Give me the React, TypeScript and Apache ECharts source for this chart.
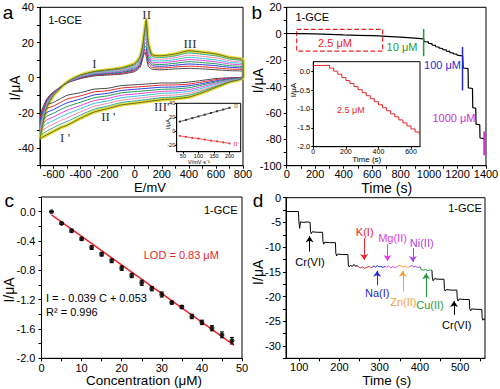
import React, { useEffect, useRef } from "react";
import * as echarts from "echarts";

const SANS = '"Liberation Sans", Arial, sans-serif';
const SERIF = '"Liberation Serif", "Times New Roman", serif';

// ---------- panel a : cyclic voltammograms ----------
const cvUpperE = [-700, -650, -600, -500, -400, -300, -200, -100, 0, 40, 60, 75, 85, 100, 130, 200, 300, 400, 500, 600, 700, 800];
const cvLowerE = [800, 700, 600, 500, 400, 300, 200, 100, 0, -100, -200, -300, -400, -500, -550, -600, -650, -700];

const cv1Up = [-21, -12, -8, -3, -0.5, 1, 1.5, 2, 3.5, 6, 11, 14.5, 12, 6.5, 4.8, 4.5, 5, 5.3, 5, 4.5, 4, 3.5];
const cv2Up = [-22.7, -12.6, -8.3, -2.9, -0.3, 1.3, 1.9, 2.4, 4.1, 6.8, 12, 16.2, 14.6, 8.2, 5.8, 5.5, 6.1, 6.6, 6.2, 5.6, 4.9, 4.3];
const cv3Up = [-24.4, -13.3, -8.5, -2.9, 0, 1.6, 2.3, 2.9, 4.6, 7.5, 13, 17.9, 17.3, 9.9, 6.9, 6.5, 7.1, 7.8, 7.4, 6.8, 5.9, 5.1];
const cv4Up = [-26.1, -13.9, -8.8, -2.8, 0.3, 1.9, 2.6, 3.3, 5.2, 8.3, 14, 19.6, 19.9, 11.6, 7.9, 7.5, 8.2, 9.1, 8.6, 7.9, 6.8, 5.9];
const cv5Up = [-27.8, -14.5, -9, -2.8, 0.5, 2.3, 3, 3.8, 5.8, 9, 15, 21.3, 22.5, 13.3, 8.9, 8.5, 9.3, 10.3, 9.8, 9, 7.8, 6.8];
const cv6Up = [-29.4, -15.1, -9.3, -2.7, 0.8, 2.6, 3.4, 4.2, 6.3, 9.8, 16, 22.9, 25.1, 15, 10, 9.5, 10.3, 11.6, 10.9, 10.1, 8.7, 7.6];
const cv7Up = [-31.1, -15.8, -9.5, -2.6, 1, 2.9, 3.8, 4.6, 6.9, 10.5, 17, 24.6, 27.8, 16.6, 11, 10.5, 11.4, 12.8, 12.1, 11.3, 9.6, 8.4];
const cv8Up = [-32.8, -16.4, -9.8, -2.6, 1.3, 3.2, 4.1, 5.1, 7.4, 11.3, 18, 26.3, 30.4, 18.3, 12, 11.5, 12.4, 14.1, 13.3, 12.4, 10.6, 9.2];
const cv9Up = [-34.5, -17, -10, -2.5, 1.5, 3.5, 4.5, 5.5, 8, 12, 19, 28, 33, 20, 13, 12.5, 13.5, 15.3, 14.5, 13.5, 11.5, 10];

const cv1Down = [0.5, 0, -0.5, -1.5, -2.5, -3, -3, -3.5, -4, -4.5, -6, -6.5, -8.5, -10, -12, -14, -15.5, -21];
const cv2Down = [0.4, -0.3, -1.1, -2.4, -3.6, -4.1, -4.2, -4.8, -5.3, -5.9, -7.4, -8.1, -10.3, -12.1, -14.1, -16.1, -17.6, -22.7];
const cv3Down = [0.4, -0.6, -1.8, -3.3, -4.6, -5.3, -5.4, -6, -6.6, -7.3, -8.9, -9.8, -12.1, -14.3, -16.1, -18.1, -19.8, -24.4];
const cv4Down = [0.3, -0.9, -2.4, -4.1, -5.7, -6.4, -6.6, -7.3, -7.9, -8.6, -10.3, -11.4, -13.9, -16.4, -18.2, -20.2, -21.9, -26.1];
const cv5Down = [0.3, -1.3, -3, -5, -6.8, -7.5, -7.8, -8.5, -9.3, -10, -11.8, -13, -15.8, -18.5, -20.3, -22.3, -24, -27.8];
const cv6Down = [0.2, -1.6, -3.6, -5.9, -7.8, -8.6, -8.9, -9.8, -10.6, -11.4, -13.2, -14.6, -17.6, -20.6, -22.3, -24.3, -26.1, -29.4];
const cv7Down = [0.1, -1.9, -4.3, -6.8, -8.9, -9.8, -10.1, -11, -11.9, -12.8, -14.6, -16.3, -19.4, -22.8, -24.4, -26.4, -28.3, -31.1];
const cv8Down = [0.1, -2.2, -4.9, -7.6, -9.9, -10.9, -11.3, -12.3, -13.2, -14.1, -16.1, -17.9, -21.2, -24.9, -26.4, -28.4, -30.4, -32.8];
const cv9Down = [0, -2.5, -5.5, -8.5, -11, -12, -12.5, -13.5, -14.5, -15.5, -17.5, -19.5, -23, -27, -28.5, -30.5, -32.5, -34.5];

const cvUps = [cv1Up, cv2Up, cv3Up, cv4Up, cv5Up, cv6Up, cv7Up, cv8Up, cv9Up];
const cvDowns = [cv1Down, cv2Down, cv3Down, cv4Down, cv5Down, cv6Down, cv7Down, cv8Down, cv9Down];
const cvColors = ["#4a4a4a", "#e8262a", "#2a3de0", "#1f9a55", "#dd44dd", "#35c4dc", "#f28aa8", "#2fa896", "#6f6a1c"];
const cvHalo = "#e4de3c";

const aXLabels = [-600, -400, -200, 0, 200, 400, 600, 800];
const aXTicks = [-700, -600, -500, -400, -300, -200, -100, 0, 100, 200, 300, 400, 500, 600, 700, 800];
const aYLabels = [-40, -20, 0, 20, 40];
const aYTicks = [-50, -40, -30, -20, -10, 0, 10, 20, 30, 40];

// inset of panel a
const insetScanRate = [40, 60, 80, 100, 120, 140, 160, 180, 200];
const insetPeakII = [13.5, 16, 18.5, 21, 23.5, 26, 28.5, 31, 33.5];
const insetPeakII2 = [-7, -8.5, -10, -11, -12.5, -14, -15, -16.5, -18];
const insetAXLabels = [50, 100, 150, 200];
const insetAYLabels = [-20, 0, 20, 40];

// ---------- panel b : amperometric i-t ----------
const bTime = [0, 100, 200, 300, 400, 500, 600, 650, 700, 800, 900, 962,
  964, 995, 997, 1020, 1022, 1045, 1047, 1070, 1072, 1095, 1097, 1120, 1122, 1145, 1147, 1170, 1172, 1195, 1197, 1236,
  1240, 1274, 1276, 1305, 1307, 1328, 1330, 1356, 1358, 1385, 1389];
const bCurrent = [0.15, 0.1, -0.2, -0.55, -0.9, -1.2, -1.5, -1.7, -2.0, -2.6, -3.3, -3.9,
  -6.0, -6.2, -7.3, -7.5, -8.6, -8.8, -9.9, -10.1, -11.0, -11.2, -12.1, -12.3, -13.2, -13.4, -14.3, -14.5, -15.3, -15.5, -16.3, -16.8,
  -26, -26.5, -41, -41.5, -56, -56.5, -68.5, -69, -79, -79.5, -81];
const bMark10uM = [[962, 3.5], [962, -17]];
const bMark100uM = [[1235, -10], [1235, -43]];
const bMark1000uM = [[1388, -74], [1388, -92]];
const bBox = [[70, 3.3], [674, -13.2]];
const bXLabels = [0, 200, 400, 600, 800, 1000, 1200, 1400];
const bXTicks = [0, 100, 200, 300, 400, 500, 600, 700, 800, 900, 1000, 1100, 1200, 1300, 1400];
const bYLabels = [-100, -80, -60, -40, -20, 0, 20];
const bYTicks = [-100, -90, -80, -70, -60, -50, -40, -30, -20, -10, 0, 10, 20];

// inset of panel b
const insetBTime = [0, 100, 125, 150, 175, 200, 225, 250, 275, 300, 325, 350, 375, 400, 425, 450, 475, 500, 525, 550, 575, 600, 625, 650];
const insetBCurrent = [0.15, 0.08, 0.0, -0.08, -0.17, -0.25, -0.33, -0.41, -0.49, -0.57, -0.65, -0.73, -0.81, -0.89, -0.97, -1.05, -1.13, -1.21, -1.29, -1.37, -1.45, -1.53, -1.61, -1.68];
const insetBXLabels = [0, 200, 400, 600];
const insetBYLabels = [-2.0, -1.5, -1.0, -0.5, 0.0];

// ---------- panel c : calibration ----------
const cConc = [2.5, 5, 7.5, 10, 12.5, 15, 17.5, 20, 22.5, 25, 27.5, 30, 32.5, 35, 37.5, 40, 42.5, 45, 47.5];
const cCurrent = [0, -0.16, -0.26, -0.37, -0.49, -0.58, -0.67, -0.77, -0.87, -0.97, -1.05, -1.13, -1.24, -1.30, -1.43, -1.51, -1.59, -1.68, -1.76];
const cError = [0, 0.015, 0.02, 0.02, 0.025, 0.025, 0.025, 0.03, 0.03, 0.035, 0.03, 0.035, 0.02, 0.02, 0.03, 0.03, 0.035, 0.04, 0.045];
const cFit = [[2.5, -0.045], [48, -1.82]];
const cXLabels = [0, 10, 20, 30, 40, 50];
const cXTicks = [0, 5, 10, 15, 20, 25, 30, 35, 40, 45, 50];
const cYLabels = [-2.0, -1.6, -1.2, -0.8, -0.4, 0.0];
const cYTicks = [-2.0, -1.8, -1.6, -1.4, -1.2, -1.0, -0.8, -0.6, -0.4, -0.2, 0.0, 0.2];

// ---------- panel d : interference ----------
const dPre = [[67, -2.8], [98, -2.8], [99, -4.7], [101, -6.2], [103, -4.9], [110, -5.0], [120, -4.9], [127, -5.0], [128, -6.8], [130, -7.3], [132, -6.9], [145, -7.0], [158, -7.0], [159, -8.9], [161, -9.4], [163, -9.0], [175, -9.1], [190, -9.1], [191, -11.3], [193, -11.8], [195, -11.4], [208, -11.5], [221, -11.5], [222, -13.6], [224, -14.0], [227, -13.7], [232, -13.9], [236, -13.5], [240, -13.9], [244, -13.7], [247, -14.0]];
const dK = [[247, -14.0], [252, -14.2], [258, -14.0], [262, -14.3], [268, -14.1], [274, -13.9], [278, -14.2], [282, -14.0]];
const dNa = [[282, -14.0], [286, -13.8], [290, -14.1], [294, -13.7], [298, -14.0], [303, -13.9], [308, -14.1], [314, -13.9]];
const dMg = [[314, -13.9], [318, -14.1], [322, -13.8], [327, -14.2], [332, -14.0], [337, -14.1], [343, -14.0]];
const dZn = [[343, -14.0], [348, -13.7], [353, -13.8], [358, -14.0], [363, -13.8], [369, -14.1], [376, -13.9]];
const dNi = [[376, -13.9], [380, -13.7], [384, -14.0], [389, -13.9], [395, -14.1], [401, -14.0]];
const dCu = [[401, -14.0], [403, -14.5], [408, -14.7], [414, -14.5], [420, -14.8], [426, -14.6], [430, -14.7]];
const dPost = [[430, -14.7], [431, -16.2], [433, -16.8], [436, -16.4], [447, -16.5], [460, -16.5], [461, -18.4], [463, -18.9], [466, -18.6], [478, -18.7], [492, -18.7], [493, -20.4], [495, -20.9], [498, -20.5], [510, -20.6], [523, -20.6], [524, -22.4], [526, -22.9], [529, -22.5], [541, -22.6], [554, -22.6], [555, -24.3], [557, -24.8], [559, -24.5], [562, -24.6]];
const dArrowCr1 = [[125.6, -10.9], [125.6, -7.8]];
const dArrowCr2 = [[485, -23.7], [485, -20.9]];
const dArrowK = [[261.5, -8.2], [261.5, -12.6]];
const dArrowNa = [[293.8, -17.7], [293.8, -14.8]];
const dArrowMg = [[319.4, -9.4], [319.4, -12.8]];
const dArrowZn = [[357.6, -19], [357.6, -14.8]];
const dArrowNi = [[382.5, -10.2], [382.5, -13.0]];
const dArrowCu = [[415.5, -20.1], [415.5, -15.3]];
const dXLabels = [100, 200, 300, 400, 500];
const dXTicks = [100, 150, 200, 250, 300, 350, 400, 450, 500, 550];
const dYLabels = [-30, -25, -20, -15, -10, -5, 0];
const dYTicks = [-32.5, -30, -27.5, -25, -22.5, -20, -17.5, -15, -12.5, -10, -7.5, -5, -2.5, 0];

const RED = "#e8262a";
const GREEN = "#23993a";
const BLUE = "#2a2ad2";
const MAGENTA = "#d02ed0";
const ORANGE = "#f2a23a";
const VIOLET = "#a744e6";

const zip = (xs: number[], ys: number[]) => xs.map((x, i) => [x, ys[i]]);

function xAxis(grid: number, min: number, max: number, labels: number[], ticks: number[], o: any = {}) {
  return {
    type: "value", gridIndex: grid, min, max,
    axisLine: { show: true, onZero: false, lineStyle: { color: "#000", width: 1 } },
    axisTick: { show: true, length: o.tick ?? 3, customValues: ticks, lineStyle: { color: "#000", width: 1 } },
    axisLabel: {
      show: true, customValues: labels, color: "#000", fontSize: o.size ?? 11, fontFamily: SANS,
      margin: o.margin ?? 3, formatter: o.fmt ?? ((v: number) => String(v)),
    },
    splitLine: { show: false },
  };
}
const yAxis = xAxis;

function T(x: number, y: number, text: string, size: number, color = "#000", o: any = {}) {
  return {
    type: "text", x, y, silent: true, z: 100,
    rotation: o.rot ? Math.PI / 2 : 0,
    style: {
      text, fill: color,
      font: `${size}px ${o.serif ? SERIF : SANS}`,
      align: o.align || "center", verticalAlign: "middle",
      textAlign: o.align || "center", textVerticalAlign: "middle",
    },
  };
}

function arrowLine(pts: number[][], color: string) {
  return {
    silent: true, symbol: ["none", "arrow"], symbolSize: 6,
    label: { show: false }, emphasis: { disabled: true },
    lineStyle: { color, width: 1, type: "solid" },
    data: [[{ coord: pts[0] }, { coord: pts[1] }]],
  };
}

function lineSeries(axis: number, data: any[], color: string, width = 1, extra: any = {}) {
  return {
    type: "line", xAxisIndex: axis, yAxisIndex: axis, data, symbol: "none", silent: true,
    lineStyle: { color, width }, itemStyle: { color }, ...extra,
  };
}

function buildOption() {
  const series: any[] = [];
  // panel a curves
  cvUps.forEach((up, i) => {
    const data = [...zip(cvUpperE, up), ...zip(cvLowerE, cvDowns[i])];
    if (i === cvUps.length - 1) {
      series.push(lineSeries(0, data, cvHalo, 3.5, { smooth: 0.2, z: 3 }));
    }
    series.push(lineSeries(0, data, cvColors[i], 1, { smooth: 0.2, z: 4 }));
  });
  // inset a
  series.push(lineSeries(4, zip(insetScanRate, insetPeakII), "#333", 0.8, { symbol: "rect", symbolSize: 2 }));
  series.push(lineSeries(4, zip(insetScanRate, insetPeakII2), "#f03030", 0.8, { symbol: "circle", symbolSize: 2 }));

  // panel b
  series.push(lineSeries(1, zip(bTime, bCurrent), "#000", 1.2, {
    markArea: {
      silent: true,
      itemStyle: { color: "rgba(0,0,0,0)", borderColor: RED, borderWidth: 1.2, borderType: "dashed" },
      data: [[{ coord: bBox[0] }, { coord: bBox[1] }]],
    },
  }));
  series.push(lineSeries(1, bMark10uM, GREEN, 1.5));
  series.push(lineSeries(1, bMark100uM, BLUE, 1.5));
  series.push(lineSeries(1, bMark1000uM, MAGENTA, 2));
  // inset b
  series.push(lineSeries(5, zip(insetBTime, insetBCurrent), RED, 1, { step: "end" }));

  // panel c
  series.push(lineSeries(2, cFit, RED, 1.5, { z: 2 }));
  series.push({
    type: "custom", xAxisIndex: 2, yAxisIndex: 2, silent: true, z: 3,
    data: cConc.map((c, i) => [c, cCurrent[i] - cError[i], cCurrent[i] + cError[i]]),
    encode: { x: 0, y: [1, 2] },
    renderItem: (_p: any, api: any) => {
      const x = api.value(0);
      const a = api.coord([x, api.value(1)]);
      const b = api.coord([x, api.value(2)]);
      const st = { stroke: "#000", lineWidth: 1 };
      return {
        type: "group",
        children: [
          { type: "line", shape: { x1: a[0], y1: a[1], x2: b[0], y2: b[1] }, style: st },
          { type: "line", shape: { x1: a[0] - 2, y1: a[1], x2: a[0] + 2, y2: a[1] }, style: st },
          { type: "line", shape: { x1: b[0] - 2, y1: b[1], x2: b[0] + 2, y2: b[1] }, style: st },
        ],
      };
    },
  });
  series.push({
    type: "scatter", xAxisIndex: 2, yAxisIndex: 2, silent: true, z: 4,
    data: zip(cConc, cCurrent), symbolSize: 5, itemStyle: { color: "#000" },
  });

  // panel d
  series.push(lineSeries(3, dPre, "#000", 1, { markLine: arrowLine(dArrowCr1, "#000") }));
  series.push(lineSeries(3, dK, RED, 1, { markLine: arrowLine(dArrowK, RED) }));
  series.push(lineSeries(3, dNa, BLUE, 1, { markLine: arrowLine(dArrowNa, BLUE) }));
  series.push(lineSeries(3, dMg, "#e040e0", 1, { markLine: arrowLine(dArrowMg, "#e040e0") }));
  series.push(lineSeries(3, dZn, ORANGE, 1, { markLine: arrowLine(dArrowZn, ORANGE) }));
  series.push(lineSeries(3, dNi, VIOLET, 1, { markLine: arrowLine(dArrowNi, VIOLET) }));
  series.push(lineSeries(3, dCu, GREEN, 1, { markLine: arrowLine(dArrowCu, GREEN) }));
  series.push(lineSeries(3, dPost, "#000", 1, { markLine: arrowLine(dArrowCr2, "#000") }));

  const grids = [
    { left: 40, top: 7.3, width: 203, height: 158.4 },
    { left: 286.7, top: 7.3, width: 199.3, height: 158.4 },
    { left: 41.5, top: 197, width: 200.5, height: 161.3 },
    { left: 286, top: 197.7, width: 199, height: 160.6 },
    { left: 176.7, top: 103.3, width: 64, height: 48.4, backgroundColor: "#fff" },
    { left: 313.3, top: 61.7, width: 106.7, height: 85, backgroundColor: "#fff" },
  ].map((g) => ({
    show: true, borderColor: "#000", borderWidth: 1, backgroundColor: "rgba(0,0,0,0)",
    containLabel: false, outerBoundsMode: "none", ...g,
  }));

  const fmt1 = (v: number) => (Math.abs(v) < 1e-9 ? "0.0" : v.toFixed(1));

  const xAxes = [
    xAxis(0, -700, 800, aXLabels, aXTicks, { margin: 2.5 }),
    xAxis(1, 0, 1400, bXLabels, bXTicks, { margin: 3 }),
    xAxis(2, 0, 50, cXLabels, cXTicks, { margin: 4 }),
    xAxis(3, 67, 562, dXLabels, dXTicks, { margin: 3.5 }),
    xAxis(4, 30, 236, insetAXLabels, insetAXLabels, { size: 5.5, margin: 1.5, tick: 2 }),
    xAxis(5, 0, 655, insetBXLabels, insetBXLabels, { size: 7, margin: 1.5, tick: 2 }),
  ];
  const yAxes = [
    yAxis(0, -50, 40, aYLabels, aYTicks, { margin: 6 }),
    yAxis(1, -100, 20, bYLabels, bYTicks, { margin: 5 }),
    yAxis(2, -2.0, 0.2, cYLabels, cYTicks, { margin: 6, fmt: fmt1 }),
    yAxis(3, -32.5, 0, dYLabels, dYTicks, { margin: 5 }),
    yAxis(4, -30, 40, insetAYLabels, insetAYLabels, { size: 5.5, margin: 1.5, tick: 2 }),
    yAxis(5, -2.0, 0.25, insetBYLabels, insetBYLabels, { size: 7.5, margin: 3, tick: 2, fmt: fmt1 }),
  ];

  const graphic = [
    // panel letters
    T(8, 12, "a", 19), T(256.7, 12, "b", 19), T(9.3, 200.5, "c", 19), T(258, 200.5, "d", 19),
    // panel a
    T(65, 20, "1-GCE", 11),
    T(94.3, 63.3, "I", 13, "#333", { serif: true }),
    T(146.7, 14, "II", 13, "#333", { serif: true }),
    T(190, 43.3, "III", 13, "#333", { serif: true }),
    T(65, 137.3, "I '", 13, "#333", { serif: true }),
    T(108.3, 116.7, "II '", 13, "#333", { serif: true }),
    T(161.7, 106, "III'", 13, "#333", { serif: true }),
    T(150, 187.8, "E/mV", 13),
    T(15, 88, "I/μA", 14, "#000", { rot: true }),
    T(236, 105.5, "II", 6, "#666", { serif: true }),
    T(236, 143.5, "II'", 6, "#f03030", { serif: true }),
    T(199, 161.5, "V/mV·s⁻¹", 5.5),
    T(167.5, 124, "I/μA", 5.5, "#000", { rot: true }),
    // panel b
    T(312.3, 16.7, "1-GCE", 11),
    T(335, 43.3, "2.5 μM", 11, RED),
    T(402, 46.7, "10 μM", 11, GREEN),
    T(442.5, 65, "100 μM", 11, BLUE),
    T(454, 118.3, "1000 μM", 11, MAGENTA),
    T(386.7, 188.3, "Time (s)", 14),
    T(258.3, 80.7, "I/μA", 14, "#000", { rot: true }),
    T(350.8, 110, "2.5 μM", 9, RED),
    T(366.7, 159.5, "Time (s)", 8),
    T(293.5, 90, "I/μA", 8, "#000", { rot: true }),
    // panel c
    T(220.7, 210.3, "1-GCE", 11),
    T(181.3, 255, "LOD = 0.83 μM", 11, RED),
    T(46, 297.7, "I = - 0.039 C + 0.053", 11, "#000", { align: "left" }),
    T(46, 312.3, "R² = 0.996", 11, "#000", { align: "left" }),
    T(144, 380.5, "Concentration (μM)", 13.5),
    T(9, 290, "I/μA", 14, "#000", { rot: true }),
    // panel d
    T(465, 207.5, "1-GCE", 11),
    T(364.7, 231.7, "K(I)", 11, RED),
    T(392.5, 238.3, "Mg(II)", 11, "#e040e0"),
    T(421.7, 242.5, "Ni(II)", 11, VIOLET),
    T(377.2, 293.3, "Na(I)", 11, BLUE),
    T(403.3, 301.7, "Zn(II)", 11, ORANGE),
    T(430, 305, "Cu(II)", 11, GREEN),
    T(310, 261.7, "Cr(VI)", 11),
    T(456.7, 325, "Cr(VI)", 11),
    T(386.7, 380.5, "Time (s)", 13.5),
    T(258.3, 272.3, "I/μA", 14, "#000", { rot: true }),
  ];

  return {
    animation: false,
    backgroundColor: "#fff",
    textStyle: { fontFamily: SANS },
    grid: grids,
    xAxis: xAxes,
    yAxis: yAxes,
    series,
    graphic,
  };
}

export default function App() {
  const ref = useRef<HTMLDivElement>(null);
  useEffect(() => {
    if (!ref.current) return;
    const chart = echarts.init(ref.current, undefined, { renderer: "svg" });
    chart.setOption(buildOption() as any);
    return () => chart.dispose();
  }, []);
  return (
    <div
      ref={ref}
      style={{ position: "fixed", left: 0, top: 0, width: 500, height: 389, background: "#fff" }}
    />
  );
}
